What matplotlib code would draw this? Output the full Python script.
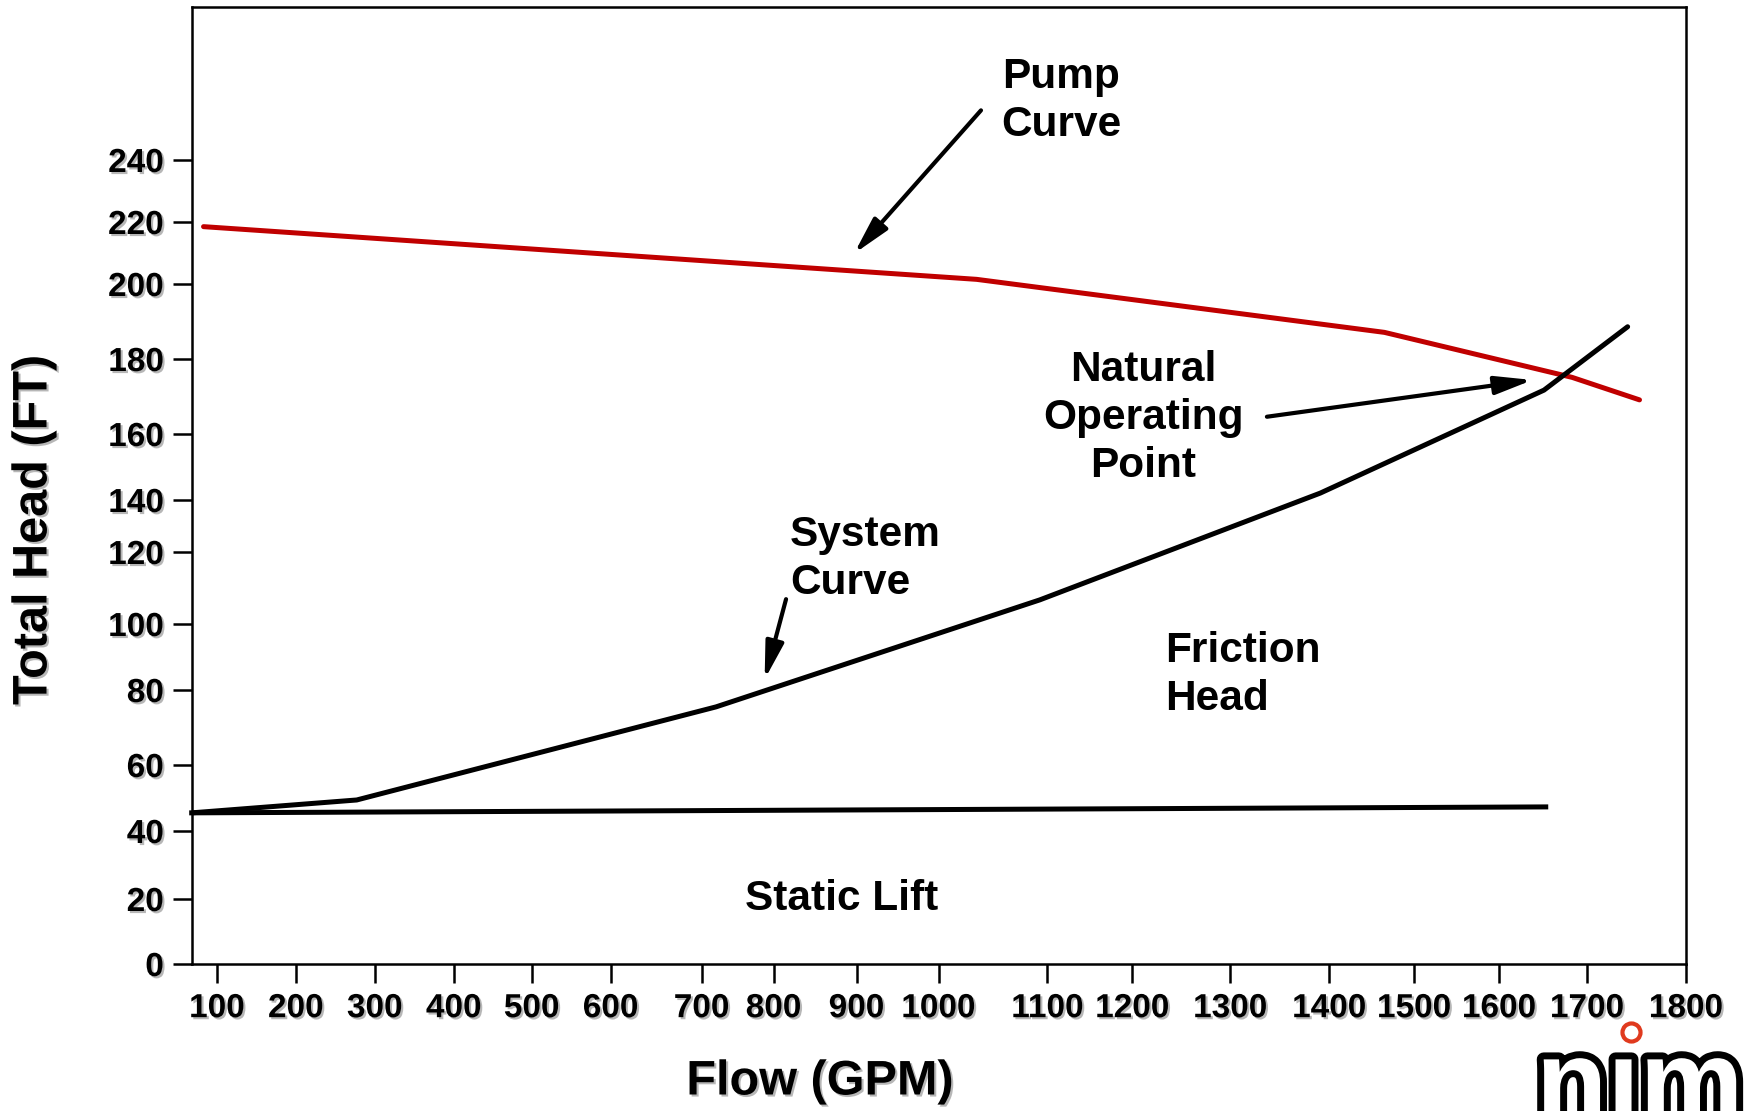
import numpy as np
import matplotlib
matplotlib.use('Agg')
import matplotlib.pyplot as plt
import matplotlib.patheffects as pe

plt.rcParams['font.family'] = ['Liberation Sans', 'DejaVu Sans']
plt.rcParams['font.weight'] = 'bold'

# tick values and where the (hand drawn) ticks sit on the original picture, in pixels
x_ticks = [100, 200, 300, 400, 500, 600, 700, 800, 900, 1000,
           1100, 1200, 1300, 1400, 1500, 1600, 1700, 1800]
x_tick_px = [217, 296, 375, 454, 532, 611, 702, 774, 857, 939,
             1048, 1133, 1231, 1330, 1415, 1500, 1588, 1687]
y_ticks = [0, 20, 40, 60, 80, 100, 120, 140, 160, 180, 200, 220, 240]
y_tick_px = [964, 899, 831, 765, 690, 624, 552, 500, 434, 359, 284, 222, 160]
x_min, x_min_px = 68, 191.7
y_max, y_max_px = 289, 7

# curves (flow in GPM, head in FT)
pump_flow = [83, 1035, 1465, 1683, 1753]
pump_head = [218.5, 201.5, 187.1, 175.1, 169.1]
system_flow = [68, 277, 720, 1093, 1391, 1651, 1741]
system_head = [45.5, 49.4, 75.5, 106.7, 142.1, 171.7, 188.6]
static_flow = [66, 1653]
static_head = [45.5, 47.3]

xv = [x_min] + x_ticks
xp = [x_min_px] + x_tick_px
yv = y_ticks + [y_max]
yp = [-p for p in y_tick_px + [y_max_px]]


def fwd_x(v):
    return np.interp(v, xv, xp)


def inv_x(p):
    return np.interp(p, xp, xv)


def fwd_y(v):
    return np.interp(v, yv, yp)


def inv_y(p):
    return np.interp(p, yp, yv)


fig = plt.figure(figsize=(17.45, 11.11), dpi=100)
ax = fig.add_axes([191.7 / 1745, 1 - 964 / 1111, (1686 - 191.7) / 1745, (964 - 7) / 1111])
ax.set_xscale('function', functions=(fwd_x, inv_x))
ax.set_yscale('function', functions=(fwd_y, inv_y))
ax.set_xlim(x_min, 1800)
ax.set_ylim(0, y_max)

ax.plot(pump_flow, pump_head, color='#c00000', lw=3.6, solid_capstyle='round')
ax.plot(system_flow, system_head, color='black', lw=3.6, solid_capstyle='round')
ax.plot(static_flow, static_head, color='black', lw=3.6, clip_on=False)

shadow = [pe.withSimplePatchShadow(offset=(1.5, -1.5), shadow_rgbFace='#888888', alpha=0.6)]

ax.set_xticks(x_ticks)
ax.set_xticklabels([str(t) for t in x_ticks])
ax.set_yticks(y_ticks)
ax.set_yticklabels([str(t) for t in y_ticks])
ax.minorticks_off()
ax.tick_params(axis='both', length=14, width=1.8, labelsize=24, direction='out')
ax.tick_params(axis='x', pad=7)
ax.tick_params(axis='y', pad=6)
for lab in ax.get_xticklabels() + ax.get_yticklabels():
    lab.set_fontweight('bold')
    lab.set_path_effects(shadow)
for s in ax.spines.values():
    s.set_linewidth(1.8)

fig.text(34 / 1745, 1 - 530 / 1111, 'Total Head (FT)', rotation=90, ha='center', va='center',
         fontsize=35, fontweight='bold', path_effects=shadow)
fig.text(820 / 1745, 1 - 1082 / 1111, 'Flow (GPM)', ha='center', va='center',
         fontsize=35, fontweight='bold', path_effects=shadow)

txt = dict(fontsize=30.5, fontweight='bold', linespacing=1.25)
ax.text(1058, 259, 'Pump\nCurve', ha='left', va='center', **txt)
ax.text(1211, 164.3, 'Natural\nOperating\nPoint', ha='center', va='center', **txt)
ax.text(820, 118, 'System\nCurve', ha='left', va='center', **txt)
ax.text(1233, 84.5, 'Friction\nHead', ha='left', va='center', **txt)
ax.text(882, 20, 'Static Lift', ha='center', va='center', **txt)

arr = dict(arrowstyle='-|>,head_length=0.9,head_width=0.22', color='black', lw=3,
           mutation_scale=25, shrinkA=0, shrinkB=0)
ax.annotate('', xy=(897, 209.8), xytext=(1039, 255.9), arrowprops=arr)
ax.annotate('', xy=(1638, 174.4), xytext=(1337, 164.6), arrowprops=arr)
ax.annotate('', xy=(787.5, 83.2), xytext=(815, 106.9), arrowprops=arr)

# logo in the corner
fig.text(1536 / 1745, 1 - 1036 / 1111, 'n\u0131m', ha='left', va='top', fontsize=84,
         fontweight='bold', color='white',
         path_effects=[pe.Stroke(linewidth=10, foreground='black'), pe.Normal()])
fig.lines.append(plt.Line2D([1631 / 1745], [1 - 1032 / 1111], transform=fig.transFigure,
                            marker='o', markersize=13, markerfacecolor='white',
                            markeredgecolor='#e03a1e', markeredgewidth=3))

fig.savefig('out.png', dpi=100)
